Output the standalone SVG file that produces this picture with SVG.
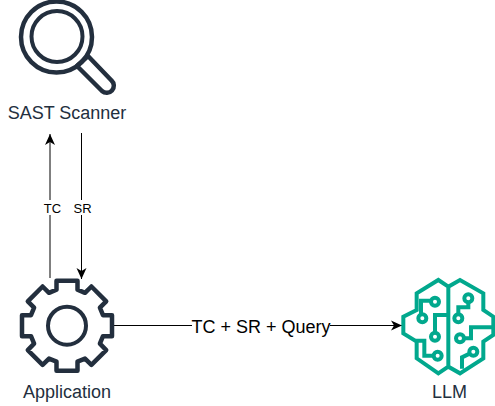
<svg xmlns="http://www.w3.org/2000/svg" width="495" height="406" viewBox="0 0 495 406">
<style>
text{font-family:"Liberation Sans",Arial,sans-serif;text-anchor:middle}
.nl{font-size:18px;fill:#232f3e}
.el{font-size:13px;fill:#000}
.ic{fill:none;stroke:#232f3e;stroke-linejoin:round;stroke-linecap:round}
.br{fill:none;stroke:#01a88d;stroke-width:12;stroke-linejoin:miter}
.cn{fill:none;stroke:#000;stroke-width:1}
</style>
<defs>
<marker id="a" markerWidth="12" markerHeight="12" refX="11" refY="6" orient="auto" markerUnits="userSpaceOnUse"><path d="M0 1L11 6L0 11L3 6Z" fill="#000"/></marker>
</defs>
<rect width="495" height="406" fill="#fff"/>
<g id="connectors">
<path class="cn" d="M50 278V134" marker-end="url(#a)"/>
<path class="cn" d="M81.5 133V279" marker-end="url(#a)"/>
<path class="cn" d="M114 325.5H402" marker-end="url(#a)"/>
<rect x="42" y="200" width="20" height="15" fill="#fff"/>
<rect x="72" y="200" width="20" height="15" fill="#fff"/>
<rect x="192" y="317" width="138" height="20" fill="#fff"/>
<text class="el" x="52.500" y="212.500">TC</text>
<text class="el" x="82.500" y="212.500">SR</text>
<text x="261" y="333" style="font-size:18px;fill:#000">TC + SR + Query</text>
</g>
<g id="scanner">
<circle class="ic" cx="56.500" cy="37" r="35.500" stroke-width="4.500"/>
<circle class="ic" cx="57" cy="36.500" r="25.500" stroke-width="4"/>
<path class="ic" stroke-width="4.500" d="M77 66L88 56L111.500 80.500A7 7 0 0 1 102 91Z"/>
<text class="nl" x="67" y="119">SAST Scanner</text>
</g>
<g id="application">
<path class="ic" stroke-width="4.500" transform="translate(67 325.700)" d="M-10.500-45L10.500-45L10.500-36L18-32.900L24.400-39.200L39.200-24.400L32.900-18L36-10.500L45-10.500L45 10.500L36 10.500L32.900 18L39.200 24.400L24.400 39.200L18 32.900L10.500 36L10.500 45L-10.500 45L-10.500 36L-18 32.900L-24.400 39.200L-39.200 24.400L-32.900 18L-36 10.500L-45 10.500L-45-10.500L-36-10.500L-32.900-18L-39.200-24.400L-24.400-39.200L-18-32.900L-10.500-36Z"/>
<circle class="ic" cx="67" cy="325.700" r="19" stroke-width="4"/>
<text class="nl" x="67" y="398">Application</text>
</g>
<g id="llm">
<g transform="translate(385 270) scale(.3333)">
<path class="br" d="M190 50L160 30L95 70V120L55 140V190L95 215V265L160 310L190 290L225 310L295 265V215L325 195V140L295 120V70L225 30L190 50V290"/>
<circle class="br" cx="150" cy="95" r="12"/><circle class="br" cx="112" cy="145" r="12"/><circle class="br" cx="150" cy="200" r="12"/><circle class="br" cx="158" cy="257" r="12"/>
<circle class="br" cx="250" cy="85" r="12"/><circle class="br" cx="220" cy="145" r="12"/><circle class="br" cx="225" cy="205" r="12"/><circle class="br" cx="265" cy="245" r="12"/>
<path class="br" d="M138 92H108V133M150 188V135H190M146 257H118V212H92M250 97V112H220V133M237 205H258V172H325M254 251L231 262V296"/>
</g>
<text class="nl" x="449.500" y="398">LLM</text>
</g>
</svg>
